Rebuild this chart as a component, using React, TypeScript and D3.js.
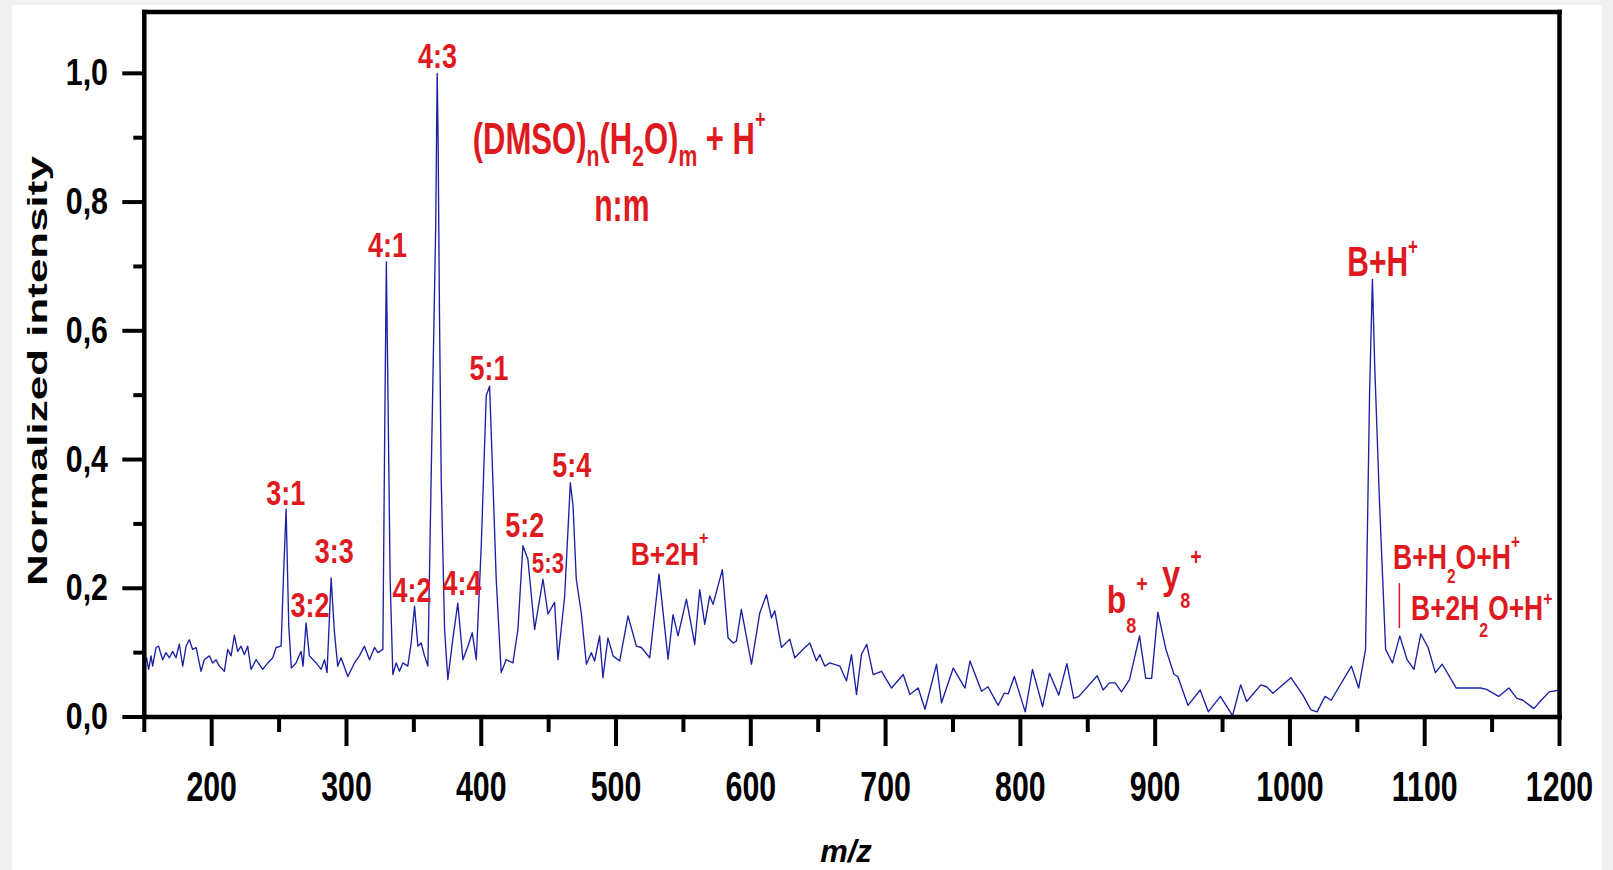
import React from 'react';
import * as d3 from 'd3';

// spectrum
const mzValues = [
  150.0, 151.7, 153.2, 155.0, 156.2, 158.7, 160.6, 163.6, 166.1, 168.6, 171.0, 173.5, 176.0, 178.5, 181.0,
  183.4, 185.9, 188.4, 192.1, 194.5, 198.3, 200.7, 203.2, 205.7, 209.4, 211.9, 214.4, 216.8, 219.3, 221.8,
  224.2, 226.7, 229.2, 232.9, 237.9, 241.6, 245.3, 247.8, 251.5, 253.2, 255.2, 257.2, 259.1, 262.6, 266.3,
  267.8, 270.0, 272.5, 277.5, 281.2, 283.7, 285.6, 288.6, 291.1, 293.5, 296.0, 301.0, 305.9, 309.6, 313.3,
  317.1, 320.8, 323.3, 327.0, 328.5, 329.6, 331.0, 332.4, 334.4, 336.9, 339.3, 341.8, 345.5, 348.0, 350.5,
  353.0, 355.4, 357.9, 360.4, 362.8, 364.6, 366.2, 367.3, 368.0, 369.0, 370.3, 372.8, 375.2, 378.9, 382.6,
  386.4, 390.1, 393.3, 396.3, 400.0, 403.7, 406.2, 408.6, 411.1, 414.8, 418.5, 423.5, 427.2, 430.9, 434.6,
  439.6, 445.8, 449.5, 454.4, 456.9, 461.9, 466.1, 468.1, 470.5, 474.2, 478.0, 481.7, 484.1, 487.8, 490.3,
  494.0, 497.8, 502.7, 508.9, 515.1, 518.8, 525.0, 531.9, 538.6, 542.3, 546.0, 552.2, 558.4, 562.1, 565.8,
  569.5, 572.0, 578.9, 583.1, 586.9, 589.3, 593.0, 600.5, 606.7, 611.6, 615.3, 617.8, 622.7, 628.9, 632.6,
  640.1, 643.8, 648.7, 651.2, 654.9, 658.6, 666.1, 671.0, 674.7, 678.4, 682.1, 686.0, 690.8, 697.0, 704.4,
  713.1, 718.0, 724.2, 729.2, 737.8, 741.5, 750.2, 758.9, 762.6, 771.2, 776.0, 783.5, 788.0, 791.0, 795.5,
  803.6, 809.0, 816.5, 821.6, 828.5, 834.5, 839.6, 843.4, 857.0, 861.4, 866.0, 870.4, 875.0, 881.0, 888.4,
  893.0, 897.4, 902.0, 908.0, 914.0, 916.8, 924.4, 933.4, 939.4, 948.4, 957.4, 963.4, 967.9, 978.4, 982.7,
  987.4, 1000.7, 1009.6, 1015.6, 1020.1, 1026.1, 1030.6, 1045.6, 1051.0, 1056.1, 1059.1, 1061.2, 1062.9, 1066.5, 1071.0,
  1076.1, 1081.5, 1086.9, 1092.0, 1097.1, 1102.5, 1107.9, 1113.0, 1123.4, 1141.4, 1145.9, 1154.9, 1162.4, 1168.4, 1172.9,
  1181.0, 1186.4, 1192.4, 1200.0,
];
const intensityValues = [
  0.084, 0.092, 0.074, 0.095, 0.079, 0.108, 0.110, 0.089, 0.100, 0.092, 0.102, 0.092, 0.113, 0.079, 0.110,
  0.120, 0.105, 0.108, 0.071, 0.089, 0.095, 0.084, 0.089, 0.079, 0.071, 0.105, 0.095, 0.127, 0.102, 0.110,
  0.097, 0.110, 0.074, 0.089, 0.074, 0.084, 0.092, 0.108, 0.110, 0.214, 0.323, 0.141, 0.076, 0.084, 0.102,
  0.079, 0.146, 0.095, 0.084, 0.074, 0.089, 0.069, 0.216, 0.131, 0.079, 0.092, 0.063, 0.084, 0.095, 0.110,
  0.089, 0.108, 0.100, 0.105, 0.473, 0.707, 0.463, 0.214, 0.066, 0.084, 0.071, 0.084, 0.079, 0.115, 0.172,
  0.110, 0.115, 0.095, 0.079, 0.369, 0.577, 0.760, 1.000, 0.893, 0.628, 0.369, 0.136, 0.058, 0.121, 0.177,
  0.089, 0.110, 0.131, 0.089, 0.266, 0.499, 0.514, 0.369, 0.214, 0.069, 0.089, 0.084, 0.136, 0.266, 0.245,
  0.136, 0.214, 0.160, 0.178, 0.089, 0.188, 0.364, 0.328, 0.214, 0.162, 0.082, 0.100, 0.087, 0.126, 0.061,
  0.123, 0.095, 0.087, 0.157, 0.110, 0.108, 0.092, 0.222, 0.090, 0.159, 0.126, 0.183, 0.113, 0.198, 0.144,
  0.188, 0.175, 0.229, 0.123, 0.115, 0.118, 0.167, 0.082, 0.162, 0.190, 0.154, 0.165, 0.108, 0.121, 0.092,
  0.108, 0.115, 0.087, 0.097, 0.079, 0.084, 0.079, 0.056, 0.097, 0.035, 0.097, 0.113, 0.066, 0.071, 0.045,
  0.066, 0.035, 0.045, 0.012, 0.082, 0.022, 0.076, 0.045, 0.087, 0.040, 0.047, 0.018, 0.037, 0.036, 0.063,
  0.008, 0.074, 0.016, 0.068, 0.034, 0.083, 0.029, 0.032, 0.064, 0.042, 0.053, 0.053, 0.039, 0.058, 0.126,
  0.060, 0.060, 0.163, 0.105, 0.066, 0.063, 0.018, 0.042, 0.008, 0.032, 0.002, 0.050, 0.024, 0.050, 0.047,
  0.037, 0.061, 0.034, 0.011, 0.008, 0.032, 0.026, 0.079, 0.045, 0.105, 0.504, 0.680, 0.546, 0.331, 0.105,
  0.084, 0.126, 0.089, 0.074, 0.129, 0.108, 0.069, 0.082, 0.045, 0.045, 0.043, 0.032, 0.045, 0.029, 0.026,
  0.013, 0.026, 0.039, 0.042,
];

const xMajorTicks = [200, 300, 400, 500, 600, 700, 800, 900, 1000, 1100, 1200];
const xMinorTicks = [150, 250, 350, 450, 550, 650, 750, 850, 950, 1050, 1150];
const yMajorTicks = [0, 0.2, 0.4, 0.6, 0.8, 1.0];
const yMinorTicks = [0.1, 0.3, 0.5, 0.7, 0.9];

// n:m cluster labels (centre m/z, baseline intensity)
const clusterLabels = ['3:1', '3:2', '3:3', '4:1', '4:2', '4:3', '4:4', '5:1', '5:2', '5:3', '5:4'];
const clusterLabelMz = [255.0, 272.9, 291.0, 330.4, 348.6, 367.5, 385.7, 405.7, 432.3, 449.5, 467.1];
const clusterLabelInt = [0.329, 0.155, 0.239, 0.715, 0.179, 1.008, 0.190, 0.524, 0.280, 0.224, 0.373];

const W = 1613;
const H = 870;
const BLUE = '#1b20a4';
const RED = '#de1a20';
const NARROW = 0.82; // Liberation Sans squeezed to Arial Narrow width

type Part = { t: string; fs?: number; dy?: number };

const Label = ({ x, y, parts, fs, sx = 1, sy = 1, anchor = 'start', color = RED, italic = false, rotate = 0 }: any) => {
  let shift = 0;
  const spans = (parts as Part[]).map((p, i) => {
    const target = p.dy ?? 0;
    const dy = target - shift;
    shift = target;
    return (
      <tspan key={i} dy={dy} fontSize={p.fs ?? fs}>
        {p.t}
      </tspan>
    );
  });
  return (
    <g transform={`translate(${x},${y}) rotate(${rotate}) scale(${sx},${sy})`}>
      <text
        textAnchor={anchor}
        fontFamily="Liberation Sans, Arial, sans-serif"
        fontWeight="bold"
        fontStyle={italic ? 'italic' : 'normal'}
        fontSize={fs}
        fill={color}
        style={{ whiteSpace: 'pre' }}
      >
        {spans}
      </text>
    </g>
  );
};

export default function App() {
  const x = d3.scaleLinear().domain([150, 1200]).range([144.3, 1559.5]);
  const y = d3.scaleLinear().domain([0, 1.0953]).range([717, 12]);

  const points = mzValues.map((m, i) => [m, intensityValues[i]] as [number, number]);
  const line = d3
    .line<[number, number]>()
    .x((d) => x(d[0]))
    .y((d) => y(d[1]));

  const fmt = (v: number) => d3.format('.1f')(v).replace('.', ',');
  const axisW = 4.5;

  return (
    <svg width={W} height={H} style={{ position: 'absolute', left: 0, top: 0 }}>
      <rect x={0} y={0} width={W} height={H} fill="#f0f0f0" />
      <rect x={12} y={5} width={1590} height={H - 5} fill="#ffffff" />

      {/* spectrum */}
      <path d={line(points) ?? ''} fill="none" stroke={BLUE} strokeWidth={1.35} strokeLinejoin="round" />

      {/* frame */}
      <g stroke="#000" strokeWidth={axisW} strokeLinecap="square">
        <line x1={x(150)} x2={x(150)} y1={y.range()[1]} y2={y(0)} />
        <line x1={x(150)} x2={x(1200)} y1={y(0)} y2={y(0)} />
        <line x1={x(150)} x2={x(1200)} y1={y.range()[1]} y2={y.range()[1]} />
        <line x1={x(1200)} x2={x(1200)} y1={y.range()[1]} y2={y(0)} />
      </g>

      {/* x ticks */}
      <g stroke="#000" strokeWidth={4}>
        {xMajorTicks.map((t) => (
          <line key={t} x1={x(t)} x2={x(t)} y1={y(0)} y2={y(0) + 29} />
        ))}
        {xMinorTicks.map((t) => (
          <line key={t} x1={x(t)} x2={x(t)} y1={y(0)} y2={y(0) + 15} />
        ))}
      </g>
      {xMajorTicks.map((t) => (
        <Label key={t} x={x(t)} y={y(0) + 84} parts={[{ t: String(t) }]} fs={37} sx={NARROW} sy={1.16} anchor="middle" color="#000" />
      ))}

      {/* y ticks */}
      <g stroke="#000" strokeWidth={4}>
        {yMajorTicks.map((t) => (
          <line key={t} x1={x(150) - 22} x2={x(150)} y1={y(t)} y2={y(t)} />
        ))}
        {yMinorTicks.map((t) => (
          <line key={t} x1={x(150) - 11} x2={x(150)} y1={y(t)} y2={y(t)} />
        ))}
      </g>
      {yMajorTicks.map((t) => (
        <Label key={t} x={108} y={y(t) + 12} parts={[{ t: fmt(t) }]} fs={37} sx={NARROW} anchor="end" color="#000" />
      ))}

      {/* axis titles */}
      <Label x={846} y={862} parts={[{ t: 'm/z' }]} fs={31} anchor="middle" color="#000" italic />
      <Label x={47} y={371} rotate={-90} parts={[{ t: 'Normalized intensity' }]} fs={28} sx={1.57} anchor="middle" color="#000" />

      {/* cluster labels */}
      {clusterLabels.map((lab, i) => (
        <Label
          key={lab}
          x={x(clusterLabelMz[i])}
          y={y(clusterLabelInt[i])}
          parts={[{ t: lab }]}
          fs={lab === '5:3' ? 29 : 35}
          sx={0.94 * NARROW}
          anchor="middle"
        />
      ))}

      <Label
        x={x(393.7)}
        y={y(0.874)}
        fs={44}
        sx={0.86 * NARROW}
        parts={[
          { t: '(DMSO)' },
          { t: 'n', fs: 30, dy: 12 },
          { t: '(H' },
          { t: '2', fs: 30, dy: 12 },
          { t: 'O)' },
          { t: 'm', fs: 30, dy: 12 },
          { t: ' + H' },
          { t: '+', fs: 26, dy: -26 },
        ]}
      />
      <Label x={x(504.3)} y={y(0.77)} fs={46} sx={0.8 * NARROW} anchor="middle" parts={[{ t: 'n:m' }]} />

      <Label
        x={x(510.9)}
        y={y(0.236)}
        fs={31}
        sx={1.04 * NARROW}
        parts={[{ t: 'B+2H' }, { t: '+', fs: 19, dy: -21 }]}
      />
      <Label
        x={x(1042.6)}
        y={y(0.685)}
        fs={42}
        sx={0.87 * NARROW}
        parts={[{ t: 'B+H' }, { t: '+', fs: 24, dy: -21 }]}
      />
      <Label
        x={x(864.1)}
        y={y(0.1616)}
        fs={39}
        sx={NARROW}
        parts={[{ t: 'b' }, { t: '8', fs: 22, dy: 20 }, { t: '+', fs: 24, dy: -21 }]}
      />
      <Label
        x={x(905.1)}
        y={y(0.199)}
        fs={40}
        sx={NARROW}
        parts={[{ t: 'y' }, { t: '8', fs: 22, dy: 19 }, { t: '+', fs: 24, dy: -24 }]}
      />
      <Label
        x={x(1076.5)}
        y={y(0.23)}
        fs={36}
        sx={0.9 * NARROW}
        parts={[{ t: 'B+H' }, { t: '2', fs: 21, dy: 14 }, { t: 'O+H' }, { t: '+', fs: 21, dy: -20 }]}
      />
      <Label
        x={x(1089.9)}
        y={y(0.1507)}
        fs={35}
        sx={0.92 * NARROW}
        parts={[{ t: 'B+2H' }, { t: '2', fs: 21, dy: 17 }, { t: 'O+H' }, { t: '+', fs: 21, dy: -14 }]}
      />
      <line x1={x(1081.2)} x2={x(1081.2)} y1={y(0.208)} y2={y(0.138)} stroke={RED} strokeWidth={1.5} />
    </svg>
  );
}
